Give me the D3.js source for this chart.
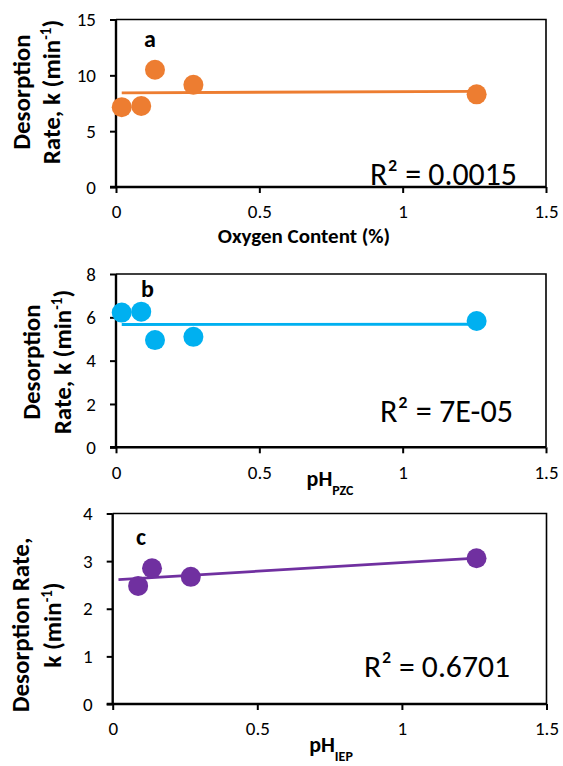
<!DOCTYPE html>
<html>
<head>
<meta charset="utf-8">
<script src="https://cdn.jsdelivr.net/npm/d3@7"></script>
<style>
  body { margin: 0; background: #fff; }
  svg { display: block; }
  text { font-family: Carlito, Calibri, Lato, "Open Sans", sans-serif; fill: #000; }
</style>
</head>
<body>
<svg id="chart" width="563" height="766"></svg>
<script>
// Sample x values shared by panels a and b
const sampleX = [0.02, 0.088, 0.136, 0.27, 1.258];
// Panel a: desorption rate k (min^-1) vs oxygen content
const rateA = [7.15, 7.25, 10.5, 9.15, 8.3];
// Panel b: desorption rate k (min^-1) vs pH_PZC
const rateB = [6.22, 6.26, 4.95, 5.1, 5.83];
// Panel c: desorption rate k (min^-1) vs pH_IEP (four samples)
const sampleXc = [0.088, 0.136, 0.27, 1.258];
const rateC = [2.48, 2.85, 2.67, 3.06];
// Linear trendline extent along x
const trendExtent = [0.02, 1.258];
// R² values printed on each panel
const r2Text = ["0.0015", "7E-05", "0.6701"];
const panelLetters = ["a", "b", "c"];
// Axis ticks
const xTicks = [0, 0.5, 1, 1.5];
const yTicksA = [0, 5, 10, 15];
const yTicksB = [0, 2, 4, 6, 8];
const yTicksC = [0, 1, 2, 3, 4];

const svg = d3.select("#chart");

const panels = [
  { xs: sampleX, ys: rateA, yTicks: yTicksA, color: "#ED7D31",
    box: { l: 116, r: 546, t: 19.5, b: 187 },
    letter: { x: 144, y: 47 },
    r2: { xEnd: 517, y: 185, w: 147 },
    yTitle: { lines: [["Desorption"], ["Rate, k (min", "-1", ")"]], x: [30, 60], cy: 92 },
    xTitle: { parts: [["Oxygen Content (%)", null]], cx: 304, y: 243, size: 21 } },
  { xs: sampleX, ys: rateB, yTicks: yTicksB, color: "#00B0F0",
    box: { l: 116, r: 546, t: 274, b: 447.3 },
    letter: { x: 141, y: 297 },
    r2: { xEnd: 513, y: 422, w: 133 },
    yTitle: { lines: [["Desorption"], ["Rate, k (min", "-1", ")"]], x: [40, 71], cy: 362 },
    xTitle: { parts: [["pH", "PZC"]], cx: 330, y: 486, size: 22 } },
  { xs: sampleXc, ys: rateC, yTicks: yTicksC, color: "#7030A0",
    box: { l: 112.7, r: 546.5, t: 513.5, b: 704 },
    letter: { x: 136, y: 545 },
    r2: { xEnd: 510, y: 677, w: 146 },
    yTitle: { lines: [["Desorption Rate,"], ["k (min", "-1", ")"]], x: [29, 61], cy: 625 },
    xTitle: { parts: [["pH", "IEP"]], cx: 331, y: 752, size: 22 } }
];

// Least-squares line through the points
function linearFit(xs, ys) {
  const mx = d3.mean(xs), my = d3.mean(ys);
  let sxy = 0, sxx = 0;
  xs.forEach((x, i) => { sxy += (x - mx) * (ys[i] - my); sxx += (x - mx) * (x - mx); });
  const slope = sxy / sxx;
  return x => my + slope * (x - mx);
}

const titleSize = 25;

panels.forEach((p, i) => {
  const g = svg.append("g");
  const x = d3.scaleLinear().domain([0, 1.5]).range([p.box.l, p.box.r]);
  const yMax = p.yTicks[p.yTicks.length - 1];
  const y = d3.scaleLinear().domain([0, yMax]).range([p.box.b, p.box.t]);

  // thin frame on top and right
  g.append("path")
    .attr("d", `M${p.box.l},${p.box.t}H${p.box.r}V${p.box.b}`)
    .attr("fill", "none").attr("stroke", "#000").attr("stroke-width", 1.6);

  // y axis
  const yAx = g.append("g").attr("transform", `translate(${p.box.l},0)`)
    .call(d3.axisLeft(y).tickValues(p.yTicks).tickSize(6).tickPadding(14).tickFormat(d3.format("d")));
  // x axis
  const xAx = g.append("g").attr("transform", `translate(0,${p.box.b})`)
    .call(d3.axisBottom(x).tickValues(xTicks).tickSize(6).tickPadding(12).tickFormat(d => String(d)));
  [yAx, xAx].forEach(ax => {
    ax.select(".domain").attr("stroke", "#000").attr("stroke-width", 2.4);
    ax.selectAll(".tick line").attr("stroke", "#000").attr("stroke-width", 2);
    ax.selectAll(".tick text").style("font-size", "19px").attr("fill", "#000");
  });
  // domains without the outer end ticks
  yAx.select(".domain").attr("d", `M0,${p.box.b}V${p.box.t}`);
  xAx.select(".domain").attr("d", `M${p.box.l - 6},0H${p.box.r}`);

  // trendline
  const fit = linearFit(p.xs, p.ys);
  g.append("line")
    .attr("x1", x(trendExtent[0])).attr("y1", y(fit(trendExtent[0])))
    .attr("x2", x(trendExtent[1])).attr("y2", y(fit(trendExtent[1])))
    .attr("stroke", p.color).attr("stroke-width", 2.8);

  // points
  g.selectAll("circle").data(p.xs).join("circle")
    .attr("cx", d => x(d)).attr("cy", (d, k) => y(p.ys[k]))
    .attr("r", 10).attr("fill", p.color);

  // panel letter
  g.append("text").attr("x", p.letter.x).attr("y", p.letter.y)
    .style("font-size", "24px").style("font-weight", "bold").text(panelLetters[i]);

  // R² label, sized to span its width
  const r2 = g.append("text").attr("x", p.r2.xEnd).attr("y", p.r2.y)
    .attr("text-anchor", "end").style("font-size", "28px")
    .text(`R² = ${r2Text[i]}`);
  const w0 = r2.node().getComputedTextLength();
  r2.style("font-size", (28 * p.r2.w / w0).toFixed(2) + "px");

  // y title (two rotated lines)
  p.yTitle.lines.forEach((parts, li) => {
    const t = g.append("text")
      .attr("transform", `translate(${p.yTitle.x[li]},${p.yTitle.cy}) rotate(-90)`)
      .attr("text-anchor", "middle")
      .style("font-size", titleSize + "px").style("font-weight", "bold");
    t.append("tspan").text(parts[0]);
    if (parts.length > 1) {
      t.append("tspan").attr("baseline-shift", "super").style("font-size", "15px").text(parts[1]);
      t.append("tspan").text(parts[2]);
    }
  });

  // x title
  const xt = g.append("text").attr("x", p.xTitle.cx).attr("y", p.xTitle.y)
    .attr("text-anchor", "middle")
    .style("font-size", p.xTitle.size + "px").style("font-weight", "bold");
  p.xTitle.parts.forEach(([main, sub]) => {
    xt.append("tspan").text(main);
    if (sub) xt.append("tspan").attr("baseline-shift", "sub").style("font-size", "14px").text(sub);
  });
});
</script>
</body>
</html>
